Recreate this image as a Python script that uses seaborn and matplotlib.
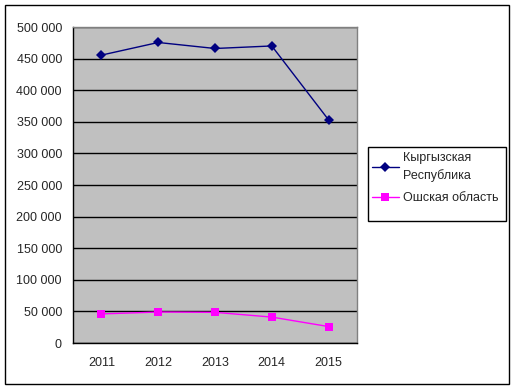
import pandas as pd
import matplotlib.pyplot as plt
import matplotlib.ticker as mticker
from matplotlib.patches import Rectangle
import seaborn as sns

years = ["2011", "2012", "2013", "2014", "2015"]
kyrgyz = [455500, 475500, 466000, 470000, 353000]
osh = [46000, 49000, 48500, 41000, 26000]
series_names = ["Кыргызская\nРеспублика", "Ошская область"]

df = pd.DataFrame({
    "year": years * 2,
    "value": kyrgyz + osh,
    "region": [series_names[0]] * len(years) + [series_names[1]] * len(years),
})

sns.set_style("white")
plt.rcParams["font.family"] = ["Liberation Sans", "DejaVu Sans"]

fig = plt.figure(figsize=(5.16, 3.9), dpi=100)
ax = fig.add_axes([73 / 516, 47 / 390, 284 / 516, 316 / 390])
ax.set_facecolor("#C0C0C0")

sns.lineplot(data=df, x="year", y="value", hue="region", style="region",
             palette=["#000080", "#FF00FF"], markers=["D", "s"], dashes=False,
             markersize=5.5, linewidth=1, markeredgewidth=0, ax=ax)

ax.set_xlim(-0.5, 4.5)
ax.set_ylim(0, 500000)
ax.yaxis.set_major_locator(mticker.MultipleLocator(50000))
ax.yaxis.set_major_formatter(mticker.FuncFormatter(lambda v, p: f"{int(v):,}".replace(",", " ")))
ax.grid(axis="y", color="black", linewidth=1)
ax.set_axisbelow(True)
ax.set_xlabel("")
ax.set_ylabel("")

ax.xaxis.set_minor_locator(mticker.FixedLocator([-0.5, 0.5, 1.5, 2.5, 3.5, 4.5]))
ax.tick_params(axis="x", which="major", length=0, pad=10, labelsize=9)
ax.tick_params(axis="x", which="minor", length=4, width=1, color="black", direction="out")
ax.tick_params(axis="y", length=4, width=1, color="black", direction="out", labelsize=9, pad=4)

for side in ["left", "bottom"]:
    ax.spines[side].set_color("black")
    ax.spines[side].set_linewidth(1)
for side in ["top", "right"]:
    ax.spines[side].set_color("#808080")
    ax.spines[side].set_linewidth(1)

handles, labels = ax.get_legend_handles_labels()
leg = ax.legend(handles=handles, labels=labels, loc="upper left",
                bbox_to_anchor=(369 / 516, 1 - 150 / 390),
                bbox_transform=fig.transFigure, frameon=False,
                fontsize=9, handlelength=2.2, handletextpad=0.3, borderpad=0.2,
                labelspacing=0.8, borderaxespad=0)
leg.get_texts()[0].set_linespacing(1.45)

# legend frame is taller than its entries, as in the reference
fig.patches.append(Rectangle((368 / 516, 1 - 221 / 390), 138 / 516, 74 / 390,
                             transform=fig.transFigure, fill=False,
                             edgecolor="black", linewidth=1))
fig.patches.append(Rectangle((5 / 516, 6 / 390), 504 / 516, 379 / 390, transform=fig.transFigure,
                             fill=False, edgecolor="black", linewidth=1))

fig.savefig("out.png", dpi=100)
